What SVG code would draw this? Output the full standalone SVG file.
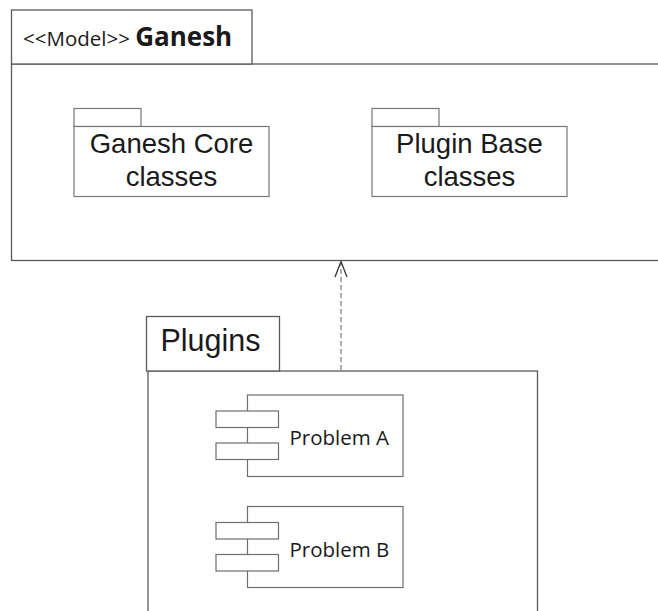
<svg xmlns="http://www.w3.org/2000/svg" width="658" height="611" viewBox="0 0 658 611">
  <style>
    .frame { fill: #ffffff; stroke: #5a5a5a; stroke-width: 1.3; }
    .pkg { fill: #ffffff; stroke: #777777; stroke-width: 1.2; }
    .comp { fill: #ffffff; stroke: #6e6e6e; stroke-width: 1.2; }
    .pkg-label { font-family: "Liberation Sans", Arial, sans-serif; font-size: 27.5px; fill: #1a1a1a; text-anchor: middle; }
    .title { font-family: "Open Sans", "Noto Sans", sans-serif; fill: #1a1a1a; }
    .comp-label { font-family: "Open Sans", "Noto Sans", sans-serif; font-size: 20.5px; fill: #1a1a1a; }
    .dep { fill: none; stroke: #777777; stroke-width: 1.2; stroke-dasharray: 5 3; }
    .head { fill: none; stroke: #333333; stroke-width: 1.3; }
  </style>

  <rect width="658" height="611" fill="#ffffff"/>

  <!-- Model package Ganesh -->
  <g id="ganesh-model">
    <rect class="frame" x="11.5" y="64" width="660" height="196.5"/>
    <rect class="frame" x="11.5" y="10" width="240.5" height="54" stroke="#7a7a7a"/>
    <text class="title" x="23" y="46" font-size="20.5">&lt;&lt;Model&gt;&gt; <tspan font-weight="bold" font-size="26">Ganesh</tspan></text>
  </g>

  <!-- Ganesh Core classes package -->
  <g id="ganesh-core">
    <rect class="pkg" x="74" y="108.5" width="67" height="18"/>
    <rect class="pkg" x="74" y="126.5" width="195" height="70"/>
    <text class="pkg-label" x="171.5" y="153">Ganesh Core</text>
    <text class="pkg-label" x="171.5" y="186">classes</text>
  </g>

  <!-- Plugin Base classes package -->
  <g id="plugin-base">
    <rect class="pkg" x="372" y="108.5" width="67" height="18"/>
    <rect class="pkg" x="372" y="126.5" width="195" height="70"/>
    <text class="pkg-label" x="469.5" y="153">Plugin Base</text>
    <text class="pkg-label" x="469.5" y="186">classes</text>
  </g>

  <!-- Plugins package -->
  <g id="plugins">
    <rect class="frame" x="148" y="371" width="389.5" height="260"/>
    <rect class="frame" x="146.5" y="316.5" width="133" height="54.5" stroke="#7a7a7a"/>
    <text x="160.5" y="351" font-family="Liberation Sans, Arial, sans-serif" font-size="30.5" fill="#1a1a1a">Plugins</text>
  </g>

  <!-- Problem A component -->
  <g id="problem-a">
    <rect class="comp" x="247.5" y="395" width="155.5" height="81.5"/>
    <rect class="comp" x="216" y="411" width="62.5" height="16.5"/>
    <rect class="comp" x="216" y="443" width="62.5" height="16.5"/>
    <text class="comp-label" x="289.5" y="445">Problem A</text>
  </g>

  <!-- Problem B component -->
  <g id="problem-b">
    <rect class="comp" x="247.5" y="506.5" width="155.5" height="81"/>
    <rect class="comp" x="216" y="522.5" width="62.5" height="16.5"/>
    <rect class="comp" x="216" y="554.5" width="62.5" height="16.5"/>
    <text class="comp-label" x="289.5" y="557">Problem B</text>
  </g>

  <!-- dependency: Plugins uses Ganesh -->
  <g id="connectors">
    <line class="dep" x1="341" y1="370" x2="341" y2="263"/>
    <polyline class="head" points="335,277 341,261.5 347,277"/>
  </g>
</svg>
